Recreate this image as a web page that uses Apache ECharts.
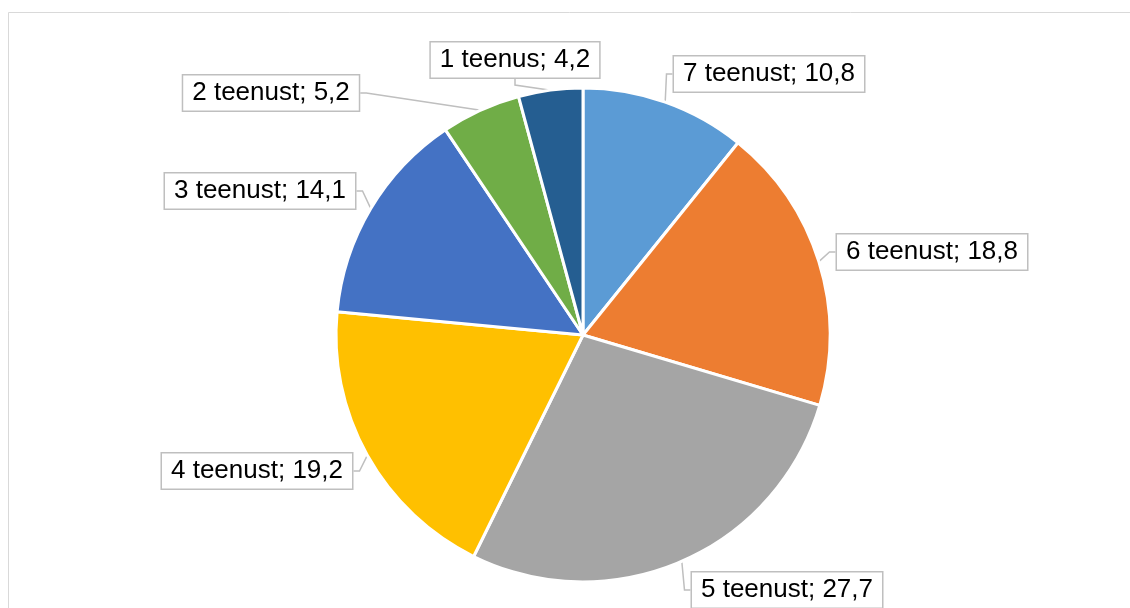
<!DOCTYPE html>
<html>
<head>
<meta charset="utf-8">
<script src="https://cdn.jsdelivr.net/npm/echarts@6/dist/echarts.min.js"></script>
<style>
html,body{margin:0;padding:0;background:#fff;}
#main{width:1130px;height:608px;}
</style>
</head>
<body>
<div id="main"></div>
<script>
// andmed (järjestus nagu joonisel, alates ülevalt päripäeva)
var kategooriad = ['7 teenust', '6 teenust', '5 teenust', '4 teenust', '3 teenust', '2 teenust', '1 teenus'];
var vaartused = [10.8, 18.8, 27.7, 19.2, 14.1, 5.2, 4.2];
var varvid = ['#5B9BD5', '#ED7D31', '#A5A5A5', '#FFC000', '#4472C4', '#70AD47', '#255E91'];

// siltide keskpunktid (px)
var siltKoht = [[769, 74], [932, 252], [787, 590], [257, 471], [260, 191], [271, 93], [515, 60]];

var data = [];
for (var i = 0; i < kategooriad.length; i++) {
    data.push({ name: kategooriad[i], value: vaartused[i], itemStyle: { color: varvid[i] } });
}

var myChart = echarts.init(document.getElementById('main'));
var option = {
  animation: false,
  backgroundColor: '#fff',
  graphic: [{
     type: 'rect',
     shape: { x: 8.5, y: 12.5, width: 1130, height: 610 },
     style: { fill: 'none', stroke: '#d9d9d9', lineWidth: 1 },
     silent: true
  }],
  series: [{
     type: 'pie',
     center: [583, 335],
     radius: 247,
     startAngle: 90,
     clockwise: true,
     data: data,
     itemStyle: {
        borderColor: '#fff',
        borderWidth: 3
     },
     label: {
        show: true,
        position: 'outside',
        formatter: function (p) {
            return p.name + '; ' + String(p.value).replace('.', ',');
        },
        fontFamily: 'Liberation Sans, Arial, sans-serif',
        fontSize: 26,
        color: '#000',
        backgroundColor: '#fff',
        borderColor: '#bfbfbf',
        borderWidth: 1.5,
        padding: [5, 9, 4, 9]
     },
     labelLine: {
        show: true,
        length: 12,
        length2: 6,
        lineStyle: { color: '#bfbfbf', width: 1.5 }
     },
     labelLayout: function (params) {
        var k = siltKoht[params.dataIndex];
        return { x: k[0], y: k[1], align: 'center', verticalAlign: 'middle' };
     }
  }]
};
myChart.setOption(option);
</script>
</body>
</html>
